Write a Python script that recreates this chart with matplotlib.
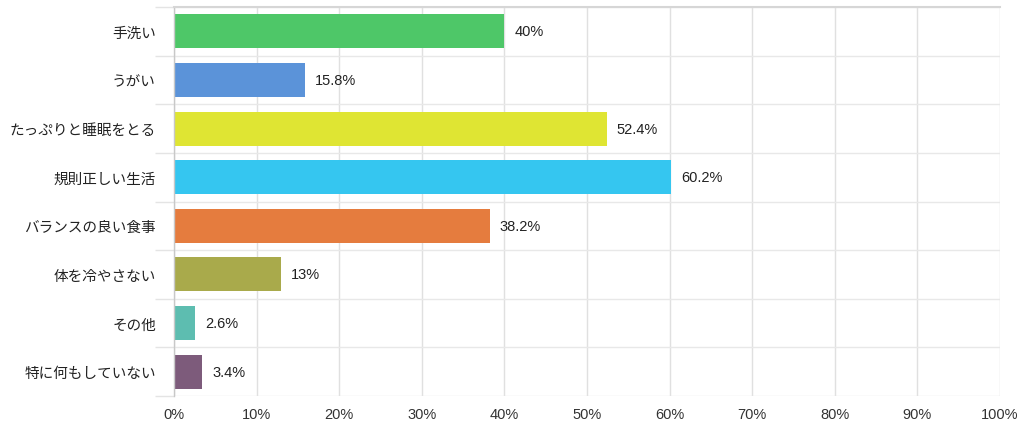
import numpy as np
import matplotlib.pyplot as plt

plt.rcParams['font.family'] = ['Liberation Sans', 'Noto Sans CJK JP', 'DejaVu Sans']

categories = ['手洗い', 'うがい', 'たっぷりと睡眠をとる', '規則正しい生活',
              'バランスの良い食事', '体を冷やさない', 'その他', '特に何もしていない']
values = [40, 15.8, 52.4, 60.2, 38.2, 13, 2.6, 3.4]
value_labels = ['40%', '15.8%', '52.4%', '60.2%', '38.2%', '13%', '2.6%', '3.4%']
colors = ['#4ec768', '#5b93d9', '#dfe533', '#35c6f0',
          '#e57c3e', '#a9aa4b', '#5dbdb0', '#7d5b7b']
x_ticks = np.arange(0, 101, 10)

fig = plt.figure(figsize=(10.24, 4.31), dpi=100)
ax = fig.add_axes([174 / 1024, 34 / 431, 826 / 1024, 389 / 431])

y = np.arange(len(categories))
ax.barh(y, values, height=0.7, color=colors, zorder=2)

for yi, v, lab in zip(y, values, value_labels):
    ax.text(v + 1.2, yi, lab, va='center', ha='left', fontsize=10.5, color='#222222')

ax.set_xlim(0, 100)
ax.set_ylim(len(categories) - 0.5, -0.5)
ax.set_xticks(x_ticks)
ax.set_xticklabels(['%d%%' % t for t in x_ticks], fontsize=10.5, color='#333333')
ax.set_yticks(y)
ax.set_yticklabels(categories, fontsize=10.5, color='#222222')
ax.set_yticks(np.arange(-0.5, len(categories), 1), minor=True)

ax.tick_params(axis='y', which='major', length=0, pad=13)
ax.tick_params(axis='y', which='minor', length=14, color='#e4e4e4', width=1)
ax.tick_params(axis='x', length=0, pad=8)

ax.grid(axis='x', which='major', color='#e0e0e0', linewidth=1, zorder=0)
ax.grid(axis='y', which='minor', color='#e8e8e8', linewidth=1, zorder=0)
ax.set_axisbelow(True)

for side in ['right', 'bottom']:
    ax.spines[side].set_visible(False)
ax.spines['top'].set_color('#d6d6d6')
ax.spines['top'].set_linewidth(1.5)
ax.spines['left'].set_color('#c8c8c8')
ax.spines['left'].set_linewidth(1)

fig.savefig('out.png', dpi=100)
